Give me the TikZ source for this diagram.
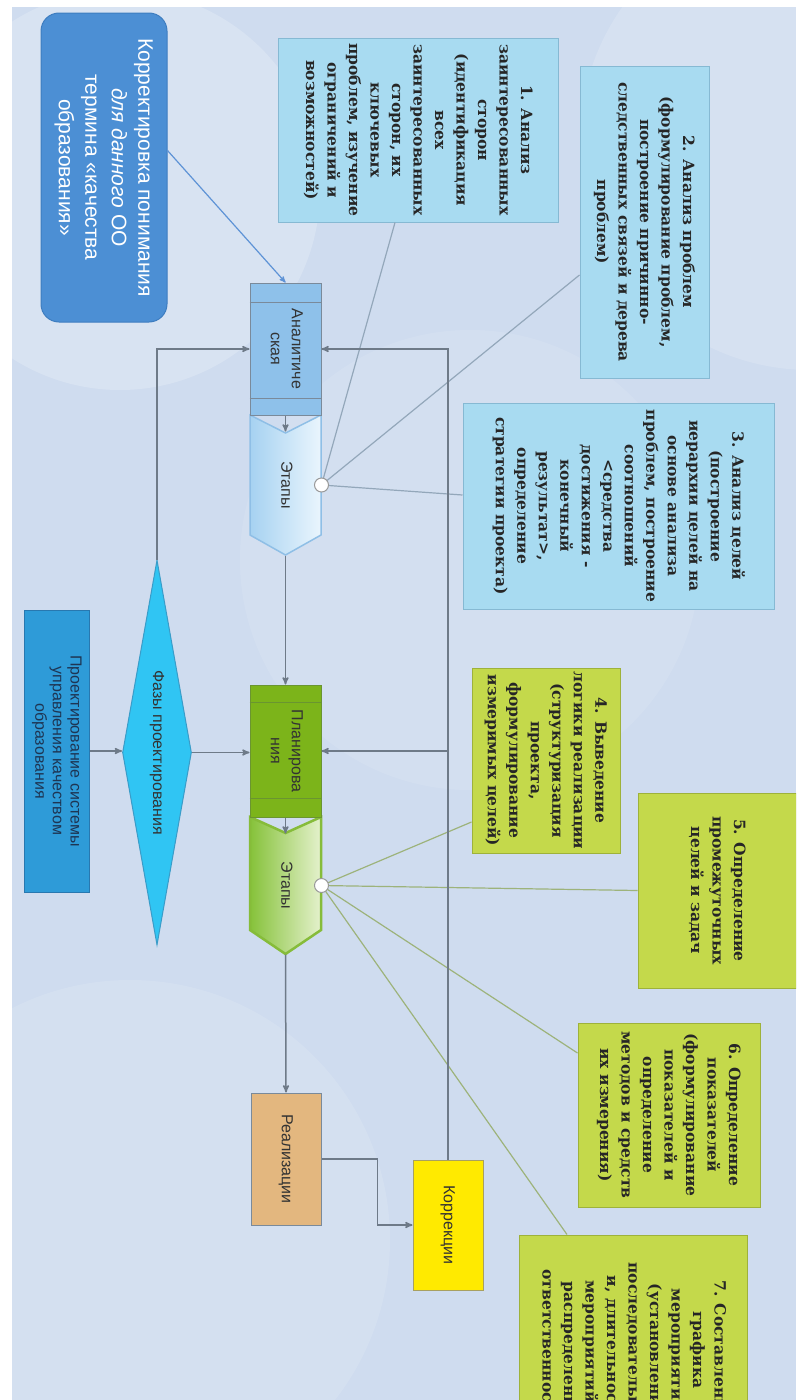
\documentclass[tikz,border=0pt]{standalone}
\usepackage{fontspec}
\setmainfont{DejaVu Serif}
\setsansfont{Liberation Sans}
\usepackage{graphicx}
\usepackage{xcolor}
\usetikzlibrary{arrows,shapes,calc}

\definecolor{bgblue}{HTML}{CFDCEF}
\definecolor{corrfill}{HTML}{4C8FD4}
\definecolor{corredge}{HTML}{3E7DC0}
\definecolor{skyfill}{HTML}{A8DBF1}
\definecolor{skyedge}{HTML}{86B9D3}
\definecolor{limefill}{HTML}{C4D94B}
\definecolor{limeedge}{HTML}{9EB23A}
\definecolor{anafill}{HTML}{8EC1EA}
\definecolor{flowedge}{HTML}{7A8A9A}
\definecolor{planfill}{HTML}{7CB41A}
\definecolor{planedge}{HTML}{6A9530}
\definecolor{realfill}{HTML}{E3B77F}
\definecolor{fixfill}{HTML}{FFEA00}
\definecolor{fixedge}{HTML}{A8A060}
\definecolor{phasefill}{HTML}{30C5F3}
\definecolor{phaseedge}{HTML}{3A9CC8}
\definecolor{projfill}{HTML}{2E9BD8}
\definecolor{projedge}{HTML}{2878B0}
\definecolor{projtext}{HTML}{1E3553}
\definecolor{stblueA}{HTML}{A6D2F1}
\definecolor{stblueB}{HTML}{EAF5FD}
\definecolor{stblueedge}{HTML}{8FBFE6}
\definecolor{stgreenA}{HTML}{86C23A}
\definecolor{stgreenB}{HTML}{E4F1CC}
\definecolor{stgreenedge}{HTML}{86BC3A}
\definecolor{arrowgray}{HTML}{6E7A88}
\definecolor{bluelinkc}{HTML}{93A7BA}
\definecolor{greenlinkc}{HTML}{9DB37B}
\definecolor{bluearrow}{HTML}{5E93D6}

\newcommand{\vtext}[1]{\rotatebox{-90}{\begin{tabular}{@{}c@{}}#1\end{tabular}}}

\begin{document}
\begin{tikzpicture}[x=1pt,y=-1pt,>=stealth']
    \tikzstyle{task}=[rectangle,draw=skyedge,fill=skyfill,line width=1pt,inner sep=0pt,text=black!85,font=\fontsize{15.5}{21.5}\selectfont\bfseries]
    \tikzstyle{plantask}=[task,draw=limeedge,fill=limefill]
    \tikzstyle{flowbox}=[rectangle,draw=flowedge,line width=1pt,inner sep=0pt,minimum width=71pt,minimum height=132pt,text=black!80,font=\sffamily\fontsize{16}{21}\selectfont]
    \tikzstyle{knot}=[circle,draw=gray!80,fill=white,line width=1pt,minimum size=14pt,inner sep=0pt]
    \tikzstyle{flowarrow}=[->,draw=arrowgray,line width=1.5pt]
    \tikzstyle{bluelink}=[draw=bluelinkc,line width=1.2pt]
    \tikzstyle{greenlink}=[draw=greenlinkc,line width=1.2pt]

    \clip (0,0) rectangle (796,1400);
    \fill[white] (0,0) rectangle (796,1400);
    \fill[bgblue] (12,7) rectangle (796,1400);
    \fill[white,opacity=.2] (120,190) circle (200);
    \fill[white,opacity=.15] (810,140) circle (230);
    \fill[white,opacity=.1] (470,560) circle (230);
    \fill[white,opacity=.12] (130,1240) circle (260);

    \node[rectangle,rounded corners=18pt,draw=corredge,fill=corrfill,line width=1pt,minimum width=126pt,minimum height=309pt,inner sep=0pt,text=white,font=\sffamily\fontsize{21}{26.5}\selectfont] (corr) at (104,167.5)
      {\vtext{Корректировка понимания\\\textit{для данного}  ОО\\термина «качества\\образования»}};

    \node[task,minimum width=280pt,minimum height=184pt] (s1) at (418,130)
      {\vtext{1. Анализ\\заинтересованных\\сторон\\(идентификация\\всех\\заинтересованных\\сторон, их\\ключевых\\проблем, изучение\\ограничений и\\возможностей)}};
    \node[task,minimum width=129pt,minimum height=312pt] (s2) at (644.5,222)
      {\vtext{2. Анализ проблем\\(формулирование проблем,\\построение причинно-\\следственных связей и дерева\\проблем)}};
    \node[task,minimum width=311pt,minimum height=206pt] (s3) at (618.5,506)
      {\vtext{3. Анализ целей\\(построение\\иерархии целей на\\основе анализа\\проблем, построение\\соотношений\\<средства\\достижения -\\конечный\\результат>,\\определение\\стратегии проекта)}};
    \node[plantask,minimum width=148pt,minimum height=185pt] (s4) at (546,760.5)
      {\vtext{4. Выведение\\логики реализации\\(структуризация\\проекта,\\формулирование\\измеримых целей)}};
    \node[plantask,minimum width=158pt,minimum height=195pt] (s5) at (717,890.5)
      {\vtext{5. Определение\\промежуточных\\целей и задач}};
    \node[plantask,minimum width=182pt,minimum height=184pt] (s6) at (669,1115)
      {\vtext{6. Определение\\показателей\\(формулирование\\показателей и\\определение\\методов и средств\\их измерения)}};
    \node[plantask,minimum width=228pt,minimum height=230pt] (s7) at (633,1350)
      {\vtext{7. Составление\\графика\\мероприятий\\(установление\\последовательност\\и, длительности\\мероприятий и\\распределение\\ответственности)}};

    \draw[draw=stblueedge,line width=1.5pt,left color=stblueA,right color=stblueB]
      (250,415) -- (285.5,433) -- (321,415) -- (321,535) -- (285.5,555) -- (250,535) -- cycle;
    \draw[draw=stgreenedge,line width=2.5pt,left color=stgreenA,right color=stgreenB]
      (250,817) -- (285.5,833) -- (321,817) -- (321,930) -- (285.5,954) -- (250,930) -- cycle;

    \node[flowbox,fill=anafill] (ana) at (285.5,349) {\vtext{Аналитиче\\ская}};
    \draw[flowedge] ([yshift=-20pt]ana.north west) -- ([yshift=-20pt]ana.north east);
    \draw[flowedge] ([yshift=17pt]ana.south west) -- ([yshift=17pt]ana.south east);
    \node[flowbox,draw=none,minimum height=140pt] (st1) at (285.5,485) {\vtext{Этапы}};
    \node[flowbox,fill=planfill,draw=planedge] (plan) at (285.5,751) {\vtext{Планирова\\ния}};
    \draw[planedge] ([yshift=-18pt]plan.north west) -- ([yshift=-18pt]plan.north east);
    \draw[planedge] ([yshift=19pt]plan.south west) -- ([yshift=19pt]plan.south east);
    \node[flowbox,draw=none,minimum height=137pt] (st2) at (285.5,885.5) {\vtext{Этапы}};
    \node[flowbox,fill=realfill,minimum width=70pt] (real) at (286,1159) {\vtext{Реализации}};
    \node[flowbox,fill=fixfill,draw=fixedge,minimum width=70pt,minimum height=130pt] (fix) at (448,1225) {\vtext{Коррекции}};
    \node[diamond,draw=phaseedge,fill=phasefill,line width=1pt,inner sep=0pt,minimum width=69pt,minimum height=385pt,shape aspect=0.18,text=black!80,font=\sffamily\fontsize{16}{20}\selectfont] (phase) at (157,752.5)
      {\vtext{Фазы проектирования}};
    \node[rectangle,draw=projedge,fill=projfill,line width=1pt,inner sep=0pt,minimum width=65pt,minimum height=282pt,text=projtext,font=\sffamily\fontsize{16}{17.5}\selectfont] (proj) at (56.5,751)
      {\vtext{Проектирование системы\\управления качеством\\образования}};

    \draw[bluelink] (st1.east) -- ([xshift=-23pt]s1.south);
    \draw[bluelink] (st1.east) -- ([yshift=-53pt]s2.west);
    \draw[bluelink] (st1.east) -- ([yshift=11pt]s3.west);
    \draw[greenlink] (st2.east) -- ([yshift=-61.5pt]s4.west);
    \draw[greenlink] (st2.east) -- (s5.west);
    \draw[greenlink] (st2.east) -- ([yshift=62pt]s6.west);
    \draw[greenlink] (st2.east) -- ([xshift=-66pt]s7.north);
    \node[knot] (k1) at (st1.east) {};
    \node[knot] (k2) at (st2.east) {};

    \draw[->,draw=bluearrow,line width=1.2pt] ([yshift=17pt]corr.east) -- (ana.north);
    \draw[flowarrow] (ana.south) -- ++(0,16);
    \draw[flowarrow] (st1.south) -- (plan.north);
    \draw[flowarrow] (plan.south) -- ++(0,16);
    \draw[flowarrow] (st2.south) -- (real.north);
    \draw[flowarrow] (real.east) -- ++(56,0) |- (fix.west);
    \draw[flowarrow] (fix.north) |- (ana.east);
    \draw[flowarrow] (fix.north |- plan.east) -- (plan.east);
    \draw[flowarrow] (phase.north) |- (ana.west);
    \draw[flowarrow] (proj.east) -- (proj.east -| phase.west);
    \draw[flowarrow] (phase.east) -- (phase.east -| plan.west);
\end{tikzpicture}
\end{document}
